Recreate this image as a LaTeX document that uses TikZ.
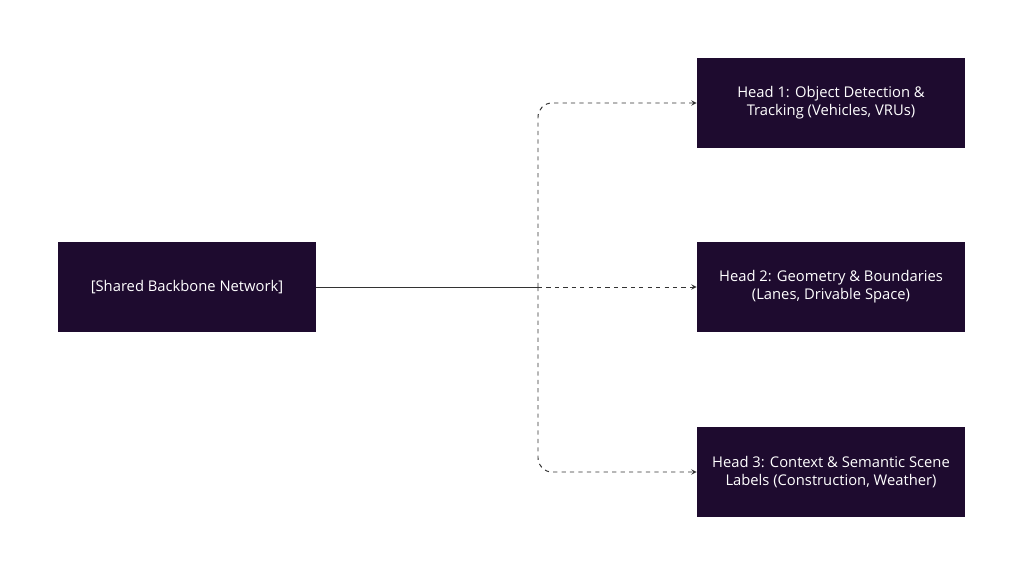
\documentclass[tikz,border=0pt]{standalone}
\usepackage{fontspec}
\setmainfont{Open Sans}
\definecolor{boxfill}{HTML}{1E0B2F}
\usetikzlibrary{positioning}
\begin{document}
\begin{tikzpicture}[auto,
    block/.style={draw=none, rectangle, fill=boxfill, text=white, align=center, font=\fontsize{10.5}{13}\selectfont, minimum height=2.25cm},
    link/.style={draw=black!80, line width=0.7pt},
    dlink/.style={link, dashed, ->, >=stealth, rounded corners=0.35cm}]
    \useasboundingbox (0,0) rectangle (25.6,14.4);
    % Nodes
    \node [block, minimum width=6.45cm] (backbone) at (4.675,7.225) {[Shared Backbone Network]};
    \node [block, minimum width=6.7cm] (head1) at (20.775,11.825) {Head 1: Object Detection \&\\Tracking (Vehicles, VRUs)};
    \node [block, minimum width=6.7cm] (head2) at (20.775,7.225) {Head 2: Geometry \& Boundaries\\(Lanes, Drivable Space)};
    \node [block, minimum width=6.7cm] (head3) at (20.775,2.6) {Head 3: Context \& Semantic Scene\\Labels (Construction, Weather)};
    \coordinate (split) at (13.45,7.225);

    % Connections
    \draw [link] (backbone) -- (split);
    \draw [dlink] (split) -- (head2);
    \draw [dlink] (split) |- (head1);
    \draw [dlink] (split) |- (head3);
\end{tikzpicture}
\end{document}
